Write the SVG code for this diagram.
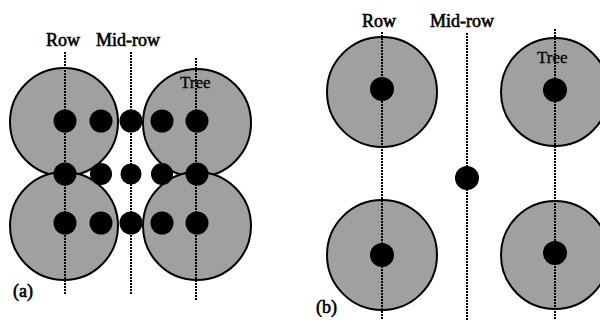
<svg xmlns="http://www.w3.org/2000/svg" width="600" height="320" viewBox="0 0 600 320">
<style>
.tree{fill:#a0a0a0;stroke:#000;stroke-width:2}
.dot{fill:#000}
.ln{stroke:#000;stroke-width:2;stroke-dasharray:2 1;fill:none}
text{font-family:'Liberation Serif',serif;fill:#000;stroke:#000}
.lbl{font-size:18px;stroke-width:0.6px}
.tl{font-size:17px;stroke-width:0.3px}
</style>
<g id="panel-a">
<g id="a-trees">
<circle class="tree" cx="64" cy="122" r="54"/>
<circle class="tree" cx="197" cy="123" r="54"/>
<circle class="tree" cx="64" cy="226" r="54"/>
<circle class="tree" cx="197" cy="226" r="54"/>
</g>
<g id="a-lines">
<line class="ln" x1="65" y1="52" x2="65" y2="295"/>
<line class="ln" x1="131" y1="52" x2="131" y2="295"/>
<line class="ln" x1="196" y1="58" x2="196" y2="300"/>
</g>
<g id="a-dots">
<circle class="dot" cx="65" cy="121" r="11.5"/>
<circle class="dot" cx="101" cy="121" r="11.5"/>
<circle class="dot" cx="131" cy="121" r="11.5"/>
<circle class="dot" cx="162" cy="121" r="11.5"/>
<circle class="dot" cx="197" cy="121" r="11.5"/>
<circle class="dot" cx="65" cy="174" r="11.5"/>
<circle class="dot" cx="101" cy="174" r="11"/>
<circle class="dot" cx="131" cy="174" r="10.5"/>
<circle class="dot" cx="162" cy="174" r="11"/>
<circle class="dot" cx="197" cy="174" r="11.5"/>
<circle class="dot" cx="65" cy="223" r="11.5"/>
<circle class="dot" cx="101" cy="223" r="11.5"/>
<circle class="dot" cx="131" cy="223" r="11.5"/>
<circle class="dot" cx="162" cy="223" r="11.5"/>
<circle class="dot" cx="197" cy="223" r="11.5"/>
</g>
<g id="a-labels">
<text class="lbl" x="46" y="46">Row</text>
<text class="lbl" x="96" y="46">Mid-row</text>
<text class="tl" x="180" y="88">Tree</text>
<text class="lbl" x="13" y="297">(a)</text>
</g>
</g>
<g id="panel-b">
<g id="b-trees">
<circle class="tree" cx="382" cy="92" r="55"/>
<circle class="tree" cx="555" cy="92" r="54"/>
<circle class="tree" cx="382" cy="255" r="55"/>
<circle class="tree" cx="555" cy="255" r="54"/>
</g>
<g id="b-lines">
<line class="ln" x1="382" y1="32" x2="382" y2="320"/>
<line class="ln" x1="467" y1="33" x2="467" y2="320"/>
<line class="ln" x1="555" y1="29" x2="555" y2="320"/>
</g>
<g id="b-dots">
<circle class="dot" cx="382" cy="89" r="12"/>
<circle class="dot" cx="382" cy="255" r="12"/>
<circle class="dot" cx="467" cy="178" r="12"/>
<circle class="dot" cx="555" cy="90" r="12"/>
<circle class="dot" cx="555" cy="253" r="12"/>
</g>
<g id="b-labels">
<text class="lbl" x="362" y="27">Row</text>
<text class="lbl" x="430" y="27">Mid-row</text>
<text class="tl" x="537" y="63">Tree</text>
<text class="lbl" x="316" y="313">(b)</text>
</g>
</g>
</svg>
